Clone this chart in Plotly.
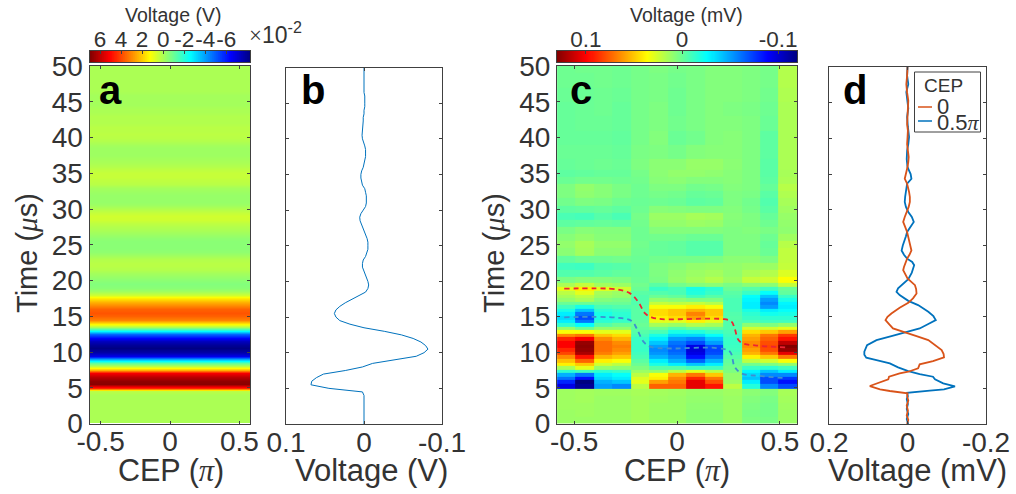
import plotly.graph_objects as go

W, H = 1016, 494
FONT = "Liberation Sans"
INK = "#333333"
FRAME = "#404040"

# ---------- panels a / b: voltage (V) every 0.5 us from 0 to 50 us ----------
time_ab = [i * 0.5 for i in range(101)]
volt_ab = [
    0, 0, 0, 0, 0, 0, 0, 0, 0, 0.002,
    0.045, 0.068, 0.067, 0.061, 0.052, 0.024, 0.002, -0.011, -0.039, -0.067,
    -0.077, -0.082, -0.079, -0.073, -0.063, -0.048, -0.026, 0, 0.018, 0.031,
    0.036, 0.038, 0.036, 0.031, 0.024, 0.015, 0.005, -0.002, -0.005, -0.006,
    -0.005, -0.003, -0.001, 0.001, 0.002, 0.002, 0.001, -0.002, -0.004, -0.005,
    -0.005, -0.005, -0.004, -0.002, 0, 0.001, 0.003, 0.005, 0.0055, 0.004,
    0.001, -0.002, -0.003, -0.003, -0.003, -0.002, -0.001, 0.002, 0.003, 0.004,
    0.004, 0.003, 0.001, 0, -0.001, -0.002, -0.002, -0.002, -0.001, 0.001,
    0.002, 0.0025, 0.002, 0.002, 0.001, 0.001, 0.001, 0, 0, -0.001,
    -0.001, -0.001, -0.001, 0, 0, 0, 0, 0, 0, 0, 0,
]
cep_a = [-0.58, 0.58]
cmax_a, cmin_a = 0.0695, -0.0825

# ---------- panel c: measured voltage (mV) ----------
cep_c = [-0.538, -0.449, -0.359, -0.269, -0.179, -0.090, 0.0,
         0.090, 0.179, 0.269, 0.359, 0.449, 0.538]
cmax_c, cmin_c = 0.1305, -0.120

time_c_low = [0.4, 1.4, 2.4, 3.4, 4.4]
rows_low = [
    [.012, .012, .012, .012, .014, .012, .012, .008, .008, .012, .005, .004, .012],
    [.012, .013, .012, .012, .014, .012, .012, .008, .008, .012, .004, .003, .012],
    [.013, .013, .012, .012, .014, .012, .012, .009, .009, .012, .005, .003, .013],
    [.013, .014, .012, .012, .014, .013, .012, .010, .010, .012, .006, .004, .014],
    [.013, .014, .013, .013, .015, .014, .013, .011, .011, .013, .008, .006, .015],
]

# columns for t = 5.3 ... 18.8 us, step 0.5 us
time_c_mid = [5.3 + 0.5 * i for i in range(28)]
c01 = [-.095, -.080, -.060, -.045, -.015, .015, .040, .052, .065, .082, .090, .100, .100, .090, .065, .035, .010, -.015, -.030, -.035, -.030, -.020, -.010, .000, .010, .015, .020, .030]
c02 = [-.115, -.120, -.085, -.060, -.010, .030, .050, .075, .095, .120, .125, .127, .125, .100, .070, .035, .000, -.025, -.060, -.070, -.060, -.040, -.020, .000, .015, .020, .030, .040]
c03 = [-.050, -.045, -.035, -.030, -.015, .010, .025, .040, .055, .068, .072, .072, .072, .065, .050, .030, .010, -.005, -.015, -.020, -.020, -.015, -.008, .000, .006, .012, .015, .030]
c04 = [-.055, -.040, -.030, -.025, -.012, .008, .020, .035, .050, .060, .065, .068, .065, .055, .045, .030, .010, .000, -.012, -.016, -.015, -.012, -.006, .000, .004, .010, .012, .025]
c05 = [.020, .030, .028, .020, .012, .005, .000, -.004, -.008, -.010, -.012, -.012, -.012, -.012, -.008, -.005, -.002, .000, -.002, -.004, -.004, -.004, -.004, -.006, -.006, -.006, -.004, .000]
c06 = [.075, .060, .040, .035, .010, -.005, -.020, -.030, -.045, -.052, -.055, -.050, -.040, -.030, -.020, -.008, .002, .015, .030, .040, .045, .045, .035, .022, .010, .000, -.006, -.012]
c07 = [.075, .070, .065, .055, .020, -.005, -.030, -.045, -.055, -.062, -.065, -.065, -.060, -.050, -.035, -.020, -.005, .012, .030, .045, .050, .050, .035, .020, .008, -.002, -.008, -.008]
c08 = [.105, .105, .090, .070, .030, -.010, -.040, -.065, -.085, -.095, -.098, -.095, -.070, -.055, -.035, -.018, .000, .018, .040, .060, .067, .055, .040, .022, .005, -.010, -.018, -.020]
c09 = [.095, .080, .070, .050, .020, -.010, -.030, -.045, -.060, -.070, -.072, -.070, -.050, -.040, -.025, -.012, .000, .015, .030, .045, .050, .050, .035, .018, .005, -.005, -.012, -.015]
c10 = [.020, .012, .010, .010, .005, .002, .000, -.002, -.005, -.008, -.010, -.011, -.012, -.012, -.010, -.008, -.006, -.006, -.006, -.005, -.006, -.008, -.008, -.008, -.008, -.006, -.004, .000]
c11 = [-.018, -.030, -.040, -.035, -.028, -.012, .002, .020, .040, .055, .060, .065, .065, .060, .055, .045, .025, .008, -.008, -.012, -.015, -.020, -.030, -.030, -.028, -.025, -.012, -.005]
c12 = [-.055, -.070, -.070, -.055, -.040, -.015, .005, .025, .050, .070, .080, .082, .080, .075, .070, .050, .025, .005, -.010, -.015, -.022, -.030, -.050, -.055, -.050, -.040, -.025, -.010]
c13 = [-.070, -.085, -.075, -.055, -.030, -.010, .010, .035, .070, .105, .125, .130, .115, .095, .085, .060, .030, .010, -.010, -.015, -.020, -.025, -.030, -.028, -.020, -.012, -.002, .000]

time_c_high = [19.4, 20, 21, 22, 23, 24, 25, 26, 27, 28, 29, 30, 31, 32, 33, 34, 35, 36,
               38, 40, 42, 44, 46, 48, 50]
rows_high = [
    [.016, .022, .014, .012, .002, -.004, .002, .006, .008, .004, .008, .008, .022],
    [.004, .006, .006, .005, .000, .004, .010, .014, .018, .012, .022, .024, .036],
    [-.006, -.006, -.004, -.002, -.001, .005, .009, .012, .014, .010, .016, .018, .028],
    [-.010, -.011, -.006, -.005, -.001, .005, .007, .010, .011, .010, .012, .012, .022],
    [-.002, .001, .001, .002, .000, .002, .003, .003, .004, .008, .008, .005, .021],
    [.008, .014, .008, .008, .001, -.001, -.002, -.005, -.005, .005, .005, .000, .021],
    [.010, .015, .010, .010, .002, -.001, -.002, -.005, -.005, .005, .005, -.001, .019],
    [.007, .010, .007, .007, .001, .002, .002, .000, .000, .005, .005, .001, .013],
    [.004, .007, .006, .006, .001, .006, .006, .006, .006, .005, .006, .004, .009],
    [-.003, -.002, -.001, -.002, .002, .010, .010, .012, .011, .006, .005, .001, .010],
    [-.008, -.009, -.005, -.008, .003, .012, .012, .015, .014, .007, .005, -.001, .011],
    [-.003, -.002, -.001, -.003, .001, .007, .006, .005, .005, .006, .003, -.004, .013],
    [.002, .005, .004, .001, .000, .001, .000, -.003, -.002, .005, .002, -.006, .015],
    [.005, .009, .007, .004, .001, .003, .002, -.001, .000, .005, .004, -.004, .017],
    [.005, .010, .007, .004, .001, .005, .005, .002, .003, .006, .005, -.001, .019],
    [.000, .002, .002, .001, .002, .007, .008, .006, .006, .007, .005, -.003, .016],
    [-.003, -.002, -.001, -.001, .003, .008, .010, .010, .009, .007, .005, -.004, .015],
    [-.001, .000, .001, .000, .005, .008, .008, .011, .011, .008, .005, -.004, .016],
    [.000, .000, .000, -.001, .004, .005, .003, .006, .007, .007, .005, -.003, .016],
    [-.001, -.001, -.001, -.002, .003, .006, .000, .002, .006, .007, .005, -.003, .016],
    [-.001, .000, .000, -.001, .003, .005, .002, .004, .006, .006, .005, .000, .016],
    [-.001, .000, .001, -.001, .003, .005, .001, .004, .006, .005, .004, .001, .016],
    [.000, .000, .001, .000, .003, .004, .001, .004, .006, .006, .005, .002, .017],
    [.001, .001, .002, .001, .003, .004, .002, .004, .006, .006, .005, .003, .018],
    [.001, .002, .002, .001, .003, .005, .003, .004, .006, .006, .005, .003, .018],
]

# dashed guide curves in panel c
dash_cep_red = [-.548, -.293, -.228, -.188, -.155, -.123, -.074, .225, .265, .280, .298, .322, .387, .532]
dash_t_red = [18.85, 18.76, 18.2, 17.0, 15.4, 14.85, 14.6, 14.6, 14.25, 13.3, 11.7, 11.2, 10.9, 10.65]
dash_cep_blue = [-.548, -.293, -.22, -.196, -.163, -.131, -.05, .193, .257, .28, .314, .403, .524]
dash_t_blue = [14.85, 14.8, 14.33, 13.3, 11.45, 10.75, 10.5, 10.55, 10.05, 7.95, 7.0, 6.65, 6.35]

# ---------- panel d: traces at CEP 0 and 0.5 pi (mV) ----------
t_d0 = [0, 0.6, 1.2, 1.9, 2.6, 3.3, 3.9, 4.29, 4.62, 4.85, 5.32, 5.6, 5.92, 6.25, 6.62, 7.09, 7.32, 7.79, 8.35,
        8.81, 9.33, 9.8, 10.35, 11.0, 11.75, 12.31, 12.82, 13.38, 14.0, 14.55, 15.0, 15.48, 16.27, 16.97, 17.6, 18.28,
        18.9, 19.44, 20.38, 21.0, 21.54, 22.0, 22.71, 23.16, 23.7, 24.3, 25.0, 25.7, 26.3, 26.9, 27.6, 28.3, 29.0, 29.7,
        30.4, 31.1, 31.8, 32.5, 33.1, 33.65, 34.35, 35.2, 36, 36.7, 37.4, 38.3, 39.2, 40.1, 41.1, 42, 43, 44.1, 45.3,
        46.4, 47.6, 48.8, 50]
v_d0 = [.001, -.002, .002, -.001, .002, -.002, .001, .000, .045, .070, .096, .082, .070, .049, .047, .020, -.002, -.027, -.031,
        -.065, -.093, -.092, -.087, -.072, -.053, -.023, .003, .037, .047, .056, .051, .041, .020, -.002, -.014, -.023,
        -.022, -.019, .000, .007, .011, .009, .004, .001, -.005, -.010, -.007, -.004, -.002, .001, .006, .011, .007, .001,
        -.003, -.006, -.006, -.004, -.001, .001, .007, .003, .000, -.002, -.003, -.001, .001, .000, -.001, .001, .000, -.002, -.002,
        .001, .003, .001, .000]
t_d5 = [0, 0.7, 1.4, 2.1, 2.8, 3.5, 3.9, 4.38, 4.67, 4.85, 5.27, 5.69, 6.25, 6.62, 7.0, 7.42, 7.93, 8.49, 8.95, 9.28,
        9.7, 10.12, 11.05, 11.75, 12.31, 12.82, 13.38, 14.0, 14.55, 15.1, 15.71, 16.65, 17.25, 18.05, 18.51, 19.0, 19.44,
        20.28, 21.2, 22.24, 22.7, 23.16, 23.7, 24.3, 25.0, 25.7, 26.3, 26.9, 27.6, 28.3, 29.0, 29.7, 30.4, 31.1, 31.8, 32.5,
        33.1, 33.65, 34.35, 35, 35.5, 36, 37.1, 38.3, 39.2, 40.2, 41.6, 43, 44.2, 45.3, 46.5, 47.6, 48.8, 50]
v_d5 = [-.002, .002, -.002, .002, -.001, .002, -.001, .001, -.057, -.093, -.121, -.091, -.070, -.065, -.031, -.002, .024, .045, .079, .105,
        .110, .110, .103, .079, .041, .003, -.031, -.053, -.072, -.066, -.053, -.027, -.002, .020, .028, .024, .015,
        -.002, -.011, -.017, -.012, .001, .009, .015, .012, .007, .004, .001, -.007, -.016, -.011, -.002, .004, .007, .006, .004,
        .002, .001, -.010, -.008, -.004, .000, .002, .001, -.002, -.004, -.001, .001, -.002, .001, .003, -.002, .001, .000]

# ---------- tick labels ----------
time_ticks = [0, 5, 10, 15, 20, 25, 30, 35, 40, 45, 50]
cep_ticks = [-0.5, 0, 0.5]
cep_ticktext = ["-0.5", "0", "0.5"]
cbar_a_vals = [0.06, 0.04, 0.02, 0, -0.02, -0.04, -0.06]
cbar_a_text = ["6", "4", "2", "0", "-2", "-4", "-6"]
cbar_c_vals = [0.1, 0, -0.1]
cbar_c_text = ["0.1", "0", "-0.1"]

PI = '<span style="font-family:\'Liberation Serif\';font-style:italic">π</span>'
MU = '<span style="font-family:\'Liberation Serif\';font-style:italic">μ</span>'

# MATLAB jet, high values at the red end
JET = [[0, "rgb(0,0,128)"], [0.125, "rgb(0,0,255)"], [0.375, "rgb(0,255,255)"],
       [0.625, "rgb(255,255,0)"], [0.875, "rgb(255,0,0)"], [1, "rgb(128,0,0)"]]

ORANGE = "#d95319"
BLUE = "#0072bd"


def fx(px):
    return px / W


def fy(px):
    return 1 - px / H


def frame(**kw):
    base = dict(showline=True, linecolor=FRAME, linewidth=1, mirror="ticks", ticks="inside",
                ticklen=3, tickcolor=FRAME, tickwidth=1, showgrid=False, zeroline=False,
                automargin=False, tickangle=0,
                tickfont=dict(family=FONT, size=28, color=INK))
    base.update(kw)
    return base


fig = go.Figure()

# a
fig.add_trace(go.Heatmap(x=cep_a, y=time_ab, z=[[v, v] for v in volt_ab], colorscale=JET,
                         zmin=cmin_a, zmax=cmax_a, zsmooth="best", showscale=False,
                         xaxis="x", yaxis="y"))
# b
fig.add_trace(go.Scatter(x=volt_ab, y=time_ab, mode="lines", line=dict(color=BLUE, width=1),
                         showlegend=False, xaxis="x2", yaxis="y2"))
# c
z_c = rows_low + [list(r) for r in zip(c01, c02, c03, c04, c05, c06, c07, c08, c09, c10, c11, c12, c13)] + rows_high
time_c = time_c_low + time_c_mid + time_c_high
fig.add_trace(go.Heatmap(x=cep_c, y=time_c, z=z_c, colorscale=JET, zmin=cmin_c, zmax=cmax_c,
                         showscale=False, xaxis="x3", yaxis="y3"))
fig.add_trace(go.Scatter(x=dash_cep_red, y=dash_t_red, mode="lines", showlegend=False,
                         line=dict(color="#ee2233", width=1.8, dash="5px,4px", shape="spline"),
                         xaxis="x3", yaxis="y3"))
fig.add_trace(go.Scatter(x=dash_cep_blue, y=dash_t_blue, mode="lines", showlegend=False,
                         line=dict(color="#3d8fd1", width=1.8, dash="5px,4px", shape="spline"),
                         xaxis="x3", yaxis="y3"))
# d
fig.add_trace(go.Scatter(x=v_d5, y=t_d5, mode="lines", name="0.5π", showlegend=False,
                         line=dict(color=BLUE, width=1.8), xaxis="x4", yaxis="y4"))
fig.add_trace(go.Scatter(x=v_d0, y=t_d0, mode="lines", name="0", showlegend=False,
                         line=dict(color=ORANGE, width=1.8), xaxis="x4", yaxis="y4"))


# colour keys: their own small heatmaps, so that high values can sit on the left
def key_values(hi, lo, n=240):
    return [hi + (lo - hi) * i / (n - 1) for i in range(n)]


key_a = key_values(cmax_a, cmin_a)
key_c = key_values(cmax_c, cmin_c)
fig.add_trace(go.Heatmap(x=key_a, y=[0, 1], z=[key_a, key_a], colorscale=JET, zmin=cmin_a, zmax=cmax_a,
                         showscale=False, xaxis="x5", yaxis="y5"))
fig.add_trace(go.Heatmap(x=key_c, y=[0, 1], z=[key_c, key_c], colorscale=JET, zmin=cmin_c, zmax=cmax_c,
                         showscale=False, xaxis="x6", yaxis="y6"))

key_axis = dict(side="top", showline=True, linecolor=FRAME, linewidth=1, mirror=True, ticks="inside",
                ticklen=3, tickcolor=FRAME, showgrid=False, zeroline=False, ticklabelstandoff=-6,
                automargin=False, tickangle=0,
                tickfont=dict(family=FONT, size=22.5, color=INK))
key_y = dict(range=[0, 1], showticklabels=False, ticks="", showgrid=False, zeroline=False,
             showline=True, linecolor=FRAME, mirror=True, automargin=False)

XSTAND = -7

fig.update_layout(
    width=W, height=H, margin=dict(l=0, r=0, t=0, b=0, pad=0),
    paper_bgcolor="white", plot_bgcolor="white", showlegend=False,
    font=dict(family=FONT, color=INK),
    xaxis=frame(domain=[fx(89.5), fx(250)], anchor="y", range=[-0.58, 0.576], tickvals=cep_ticks,
                ticktext=cep_ticktext, ticklabelstandoff=XSTAND),
    yaxis=frame(domain=[fy(423.5), fy(66)], anchor="x", range=[0, 50], tickvals=time_ticks,
                ticklabelstandoff=0),
    xaxis2=frame(domain=[fx(286), fx(442)], anchor="y2", range=[0.1, -0.1], tickvals=[0.1, 0, -0.1],
                 ticktext=["0.1", "0", "-0.1"], ticklabelstandoff=XSTAND),
    yaxis2=frame(domain=[fy(424), fy(67.5)], anchor="x2", range=[0, 50], tickvals=time_ticks,
                 showticklabels=False),
    xaxis3=frame(domain=[fx(557), fx(797)], anchor="y3", range=[-0.583, 0.583], tickvals=cep_ticks,
                 ticktext=cep_ticktext, ticklabelstandoff=XSTAND),
    yaxis3=frame(domain=[fy(423.5), fy(66)], anchor="x3", range=[0, 50], tickvals=time_ticks,
                 ticklabelstandoff=0),
    xaxis4=frame(domain=[fx(829), fx(986)], anchor="y4", range=[0.2, -0.2], tickvals=[0.2, 0, -0.2],
                 ticktext=["0.2", "0", "-0.2"], ticklabelstandoff=XSTAND),
    yaxis4=frame(domain=[fy(424), fy(67)], anchor="x4", range=[0, 50], tickvals=time_ticks,
                 showticklabels=False),
    xaxis5=dict(key_axis, domain=[fx(90), fx(250)], anchor="y5", range=[cmax_a, cmin_a],
                tickvals=cbar_a_vals, ticktext=cbar_a_text),
    yaxis5=dict(key_y, domain=[fy(62), fy(50.5)], anchor="x5"),
    xaxis6=dict(key_axis, domain=[fx(556.7), fx(797.3)], anchor="y6", range=[cmax_c, cmin_c],
                tickvals=cbar_c_vals, ticktext=cbar_c_text),
    yaxis6=dict(key_y, domain=[fy(62), fy(50.5)], anchor="x6"),
)


def note(text, x, y, size, xanchor="center", color=INK, bold=False, angle=0):
    fig.add_annotation(text=f"<b>{text}</b>" if bold else text, xref="paper", yref="paper",
                       x=fx(x), y=fy(y), xanchor=xanchor, yanchor="middle", showarrow=False,
                       textangle=angle,
                       font=dict(family=FONT, size=size, color=color), borderpad=0, borderwidth=0)


# axis titles
note(f"CEP ({PI})", 170.5, 470, 30.5)
note("Voltage (V)", 371, 470, 31)
note(f"CEP ({PI})", 677, 470, 30.5)
note("Voltage (mV)", 917, 470, 31)
note(f"Time ({MU}s)", 27, 253, 29, angle=-90)
note(f"Time ({MU}s)", 494, 253, 29, angle=-90)

note("Voltage (V)", 172.7, 15, 19.5)
note("Voltage (mV)", 686, 15, 19.5)
note('<span style="font-family:\'Liberation Serif\'">×</span>10<sup>-2</sup>', 249, 33, 23, xanchor="left")
note("a", 99, 90, 40, xanchor="left", color="black", bold=True)
note("b", 301, 90, 40, xanchor="left", color="black", bold=True)
note("c", 570, 90, 40, xanchor="left", color="black", bold=True)
note("d", 843, 90, 40, xanchor="left", color="black", bold=True)

# legend box of panel d
fig.add_shape(type="rect", xref="paper", yref="paper", x0=fx(914.5), x1=fx(980.5), y0=fy(132), y1=fy(72),
              fillcolor="white", line=dict(color=FRAME, width=1), layer="above")
fig.add_shape(type="line", xref="paper", yref="paper", x0=fx(918), x1=fx(932), y0=fy(107), y1=fy(107),
              line=dict(color=ORANGE, width=1.5), layer="above")
fig.add_shape(type="line", xref="paper", yref="paper", x0=fx(918), x1=fx(932), y0=fy(121), y1=fy(121),
              line=dict(color=BLUE, width=1.5), layer="above")
note("CEP", 943, 86, 19)
note("0", 937, 106, 22, xanchor="left")
note(f"0.5{PI}", 937, 122, 22, xanchor="left")

fig.write_html("out.html", config={"displayModeBar": False},
               post_script="document.body.style.margin='0';document.body.style.overflow='hidden';")
